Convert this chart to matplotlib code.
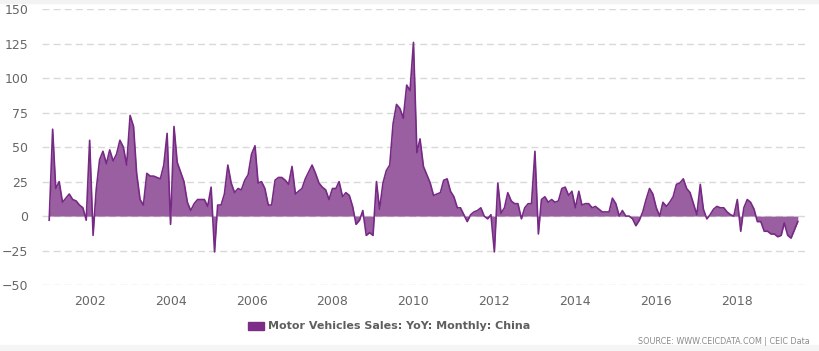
import pandas as pd
import matplotlib
matplotlib.use('Agg')
import matplotlib.pyplot as plt
import matplotlib.dates as mdates
from matplotlib.patches import Rectangle

# monthly YoY growth (%), Jan 2001 - Jul 2019
yoy_2001 = [-3, 63, 20, 25, 10, 13, 16, 12, 11, 8, 6, -3]
yoy_2002 = [55, -14, 19, 41, 47, 38, 48, 40, 45, 55, 50, 37]
yoy_2003 = [73, 65, 31, 12, 8, 31, 29, 29, 28, 27, 37, 60]
yoy_2004 = [-6, 65, 39, 32, 25, 10, 4, 9, 12, 12, 12, 7]
yoy_2005 = [21, -26, 8, 8, 16, 37, 24, 17, 20, 19, 26, 30]
yoy_2006 = [45, 51, 24, 25, 20, 8, 8, 26, 28, 28, 26, 23]
yoy_2007 = [36, 16, 18, 20, 27, 32, 37, 31, 24, 21, 19, 12]
yoy_2008 = [20, 20, 25, 14, 17, 15, 7, -6, -3, 4, -14, -12]
yoy_2009 = [-14, 25, 5, 24, 33, 37, 67, 81, 78, 71, 95, 91]
yoy_2010 = [126, 46, 56, 36, 30, 24, 15, 16, 17, 26, 27, 18]
yoy_2011 = [14, 6, 6, 1, -4, 1, 3, 4, 6, 0, -2, 1]
yoy_2012 = [-26, 24, 2, 6, 17, 11, 9, 9, -2, 6, 9, 9]
yoy_2013 = [47, -13, 12, 14, 10, 12, 10, 11, 20, 21, 15, 18]
yoy_2014 = [6, 18, 8, 9, 9, 6, 7, 5, 3, 3, 3, 13]
yoy_2015 = [9, 0, 4, 0, 0, -2, -7, -3, 3, 12, 20, 16]
yoy_2016 = [6, 0, 10, 7, 10, 14, 23, 24, 27, 20, 17, 9]
yoy_2017 = [1, 23, 5, -2, 1, 5, 7, 6, 6, 3, 1, 0]
yoy_2018 = [12, -11, 6, 12, 10, 5, -4, -4, -11, -11, -13, -13]
yoy_2019 = [-15, -14, -5, -14, -16, -10, -4]

values = (yoy_2001 + yoy_2002 + yoy_2003 + yoy_2004 + yoy_2005 + yoy_2006 +
          yoy_2007 + yoy_2008 + yoy_2009 + yoy_2010 + yoy_2011 + yoy_2012 +
          yoy_2013 + yoy_2014 + yoy_2015 + yoy_2016 + yoy_2017 + yoy_2018 +
          yoy_2019)
dates = pd.date_range('2001-01-01', periods=len(values), freq='MS')

y_ticks = [-50, -25, 0, 25, 50, 75, 100, 125, 150]
x_years = [2002, 2004, 2006, 2008, 2010, 2012, 2014, 2016, 2018]

line_color = '#772a85'
fill_color = '#995fa1'
tick_color = '#666666'

fig = plt.figure(figsize=(8.2, 3.51), dpi=100)
W, H = 820, 351
ax = fig.add_axes([42 / W, (H - 285) / H, (807 - 42) / W, (285 - 9.3) / H])

# light strips at top and bottom
fig.patches.append(Rectangle((0, (H - 3) / H), 1, 3 / H, transform=fig.transFigure,
                             color='#f3f3f3', zorder=0))
fig.patches.append(Rectangle((0, 0), 1, 6 / H, transform=fig.transFigure,
                             color='#f5f5f5', zorder=0))

ax.fill_between(dates, values, 0, color=fill_color, linewidth=0, zorder=2)
ax.plot(dates, values, color=line_color, linewidth=1.2, zorder=3)

ax.set_ylim(-50, 150)
ax.set_yticks(y_ticks)
ax.set_xlim(pd.Timestamp('2000-10-28'), pd.Timestamp('2019-09-22'))
ax.set_xticks([pd.Timestamp(f'{y}-01-01') for y in x_years])
ax.xaxis.set_major_formatter(mdates.DateFormatter('%Y'))

ax.grid(axis='y', color='#d9d9d9', linestyle=(0, (5, 3)), linewidth=1.0, zorder=1)
ax.grid(axis='x', visible=False)
for s in ax.spines.values():
    s.set_visible(False)
ax.tick_params(axis='both', length=0, colors=tick_color, labelsize=9)
ax.tick_params(axis='y', pad=10)
ax.tick_params(axis='x', pad=7)

# legend
fig.patches.append(Rectangle((248 / W, (H - 330) / H), 16 / W, 8 / H,
                             transform=fig.transFigure, color='#7b2d87'))
fig.text(268 / W, (H - 326) / H, 'Motor Vehicles Sales: YoY: Monthly: China',
         fontweight='bold', fontsize=8, color='#5f5f5f', va='center', ha='left')

fig.text(810 / W, (H - 342) / H, 'SOURCE: WWW.CEICDATA.COM | CEIC Data',
         fontsize=5.8, color='#8a8a8a', va='center', ha='right')

plt.savefig('out.png', dpi=100)
